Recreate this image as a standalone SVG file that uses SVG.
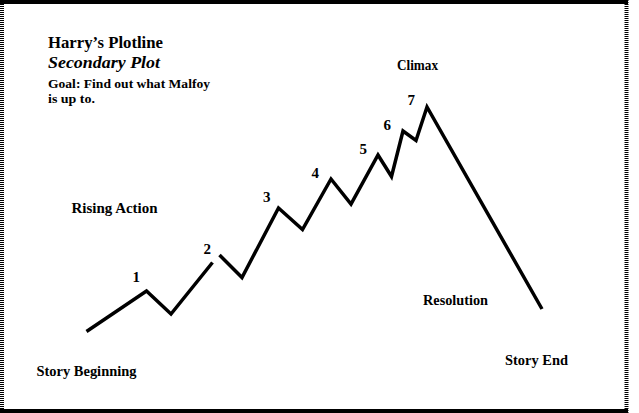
<svg xmlns="http://www.w3.org/2000/svg" width="639" height="413" viewBox="0 0 639 413">
<style>
text{font-family:"Liberation Serif","Times New Roman",serif;font-weight:bold;fill:#000}
.big{font-size:17px}
.sm{font-size:13px}
.lbl{font-size:14px}
.num{font-size:15px}
.plot{fill:none;stroke:#000;stroke-width:3.5;stroke-linejoin:miter;stroke-linecap:butt}
</style>
<rect x="0" y="0" width="639" height="413" fill="#fff"/>
<g id="frame">
<rect x="0" y="0" width="628" height="4" fill="#000"/>
<rect x="0" y="409" width="628" height="4" fill="#000"/>
<line x1="2" y1="0" x2="2" y2="413" stroke="#000" stroke-width="4" stroke-dasharray="1 1"/>
<line x1="626.5" y1="0" x2="626.5" y2="413" stroke="#000" stroke-width="4" stroke-dasharray="1 1"/>
</g>
<g id="title">
<text class="big" x="48" y="48" textLength="115" lengthAdjust="spacingAndGlyphs">Harry’s Plotline</text>
<text class="big" x="48" y="68" font-style="italic" textLength="112" lengthAdjust="spacingAndGlyphs">Secondary Plot</text>
<text class="sm" x="48" y="88" textLength="162" lengthAdjust="spacingAndGlyphs">Goal: Find out what Malfoy</text>
<text class="sm" x="48" y="103" textLength="47" lengthAdjust="spacingAndGlyphs">is up to.</text>
</g>
<g id="connectors">
<polyline class="plot" points="86.5,331.5 146.5,291 171,314 212.5,262.5"/>
<polyline class="plot" points="219.5,255 242,277.5 278.5,208 302.5,229.5 331,179 351,204 378,155 391.5,176.5 403,131 416,140.5 427,107 542,309"/>
</g>
<g id="labels">
<text class="lbl" x="397" y="70" textLength="41" lengthAdjust="spacingAndGlyphs">Climax</text>
<text class="lbl" x="71.5" y="213" textLength="86" lengthAdjust="spacingAndGlyphs">Rising  Action</text>
<text class="lbl" x="423" y="305" textLength="65" lengthAdjust="spacingAndGlyphs">Resolution</text>
<text class="lbl" x="505" y="364.5" textLength="63" lengthAdjust="spacingAndGlyphs">Story End</text>
<text class="lbl" x="36.5" y="376" textLength="100" lengthAdjust="spacingAndGlyphs">Story Beginning</text>
</g>
<g id="numbers">
<text class="num" x="132.5" y="282">1</text>
<text class="num" x="203.5" y="254">2</text>
<text class="num" x="263" y="202">3</text>
<text class="num" x="311.5" y="178">4</text>
<text class="num" x="359.5" y="154">5</text>
<text class="num" x="383.5" y="129.5">6</text>
<text class="num" x="407.5" y="104.5">7</text>
</g>
</svg>
